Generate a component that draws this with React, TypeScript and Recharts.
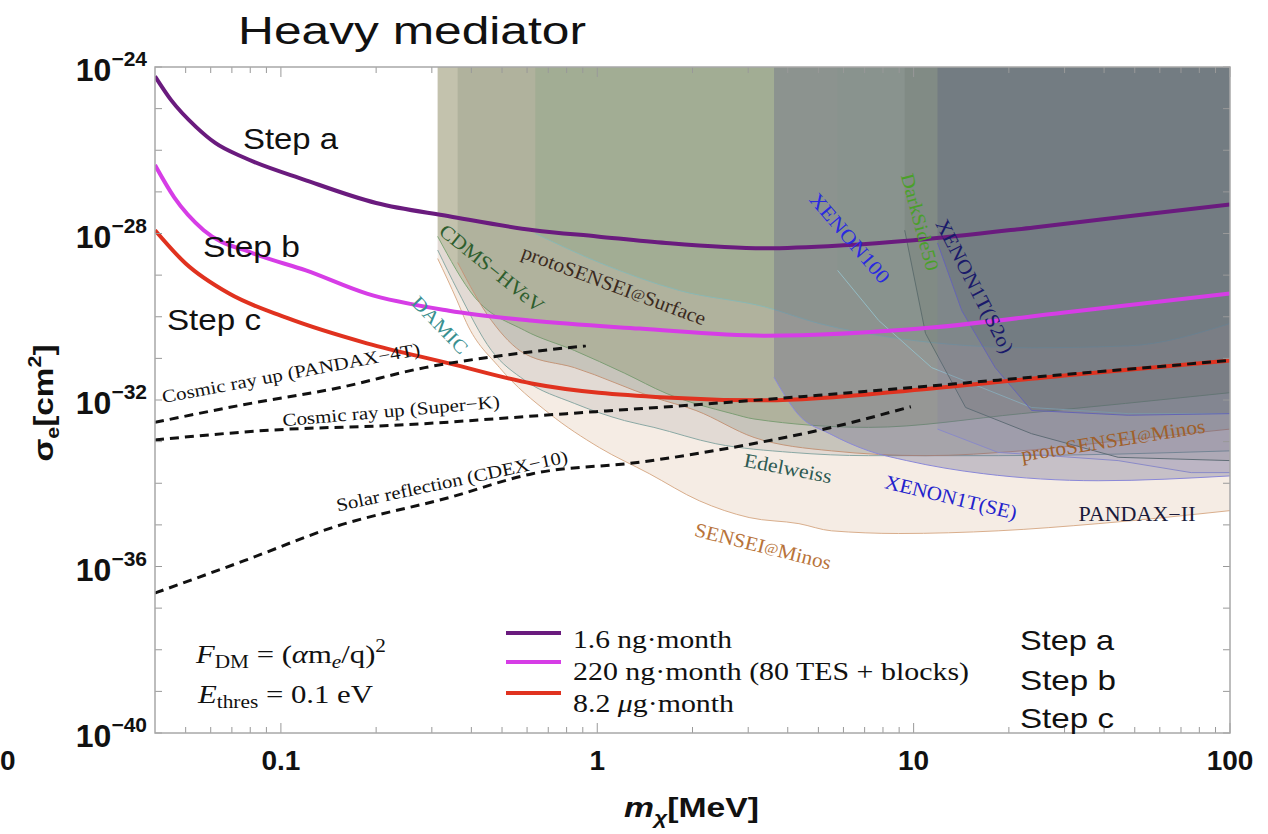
import React from "react";
import { ComposedChart, Line, Area, XAxis, YAxis } from "recharts";

const W = 1268;
const H = 834;
const PLOT = { left: 155, right: 1230, top: 67, bottom: 733 };
const AXIS_SIZE = 1;
const SIGMA_TOP = 1e-24;
const SANS = "'Liberation Sans', Arial, sans-serif";
const SERIF = "'Liberation Serif', 'Times New Roman', serif";

// axis ticks
const xTicks = [
  0.05, 0.06, 0.07, 0.08, 0.09, 0.1, 0.2, 0.3, 0.4, 0.5, 0.6, 0.7, 0.8, 0.9, 1, 2, 3, 4, 5, 6, 7, 8, 9,
  10, 20, 30, 40, 50, 60, 70, 80, 90, 100,
];
const xLabels = [0.1, 1, 10, 100];
const yTicks = [
  1e-40, 1e-39, 1e-38, 1e-37, 1e-36, 1e-35, 1e-34, 1e-33, 1e-32, 1e-31, 1e-30, 1e-29, 1e-28, 1e-27,
  1e-26, 1e-25, 1e-24,
];

// projected reach, three steps
const stepAMass = [0.04, 0.045, 0.054, 0.062, 0.077, 0.12, 0.2, 0.34, 0.63, 1.0, 1.65, 3.4, 6, 10, 24, 50, 100];
const stepASigma = [6.0e-25, 1.6e-25, 3.6e-26, 1.5e-26, 6.5e-27, 1.9e-27, 5.4e-28, 2.6e-28, 1.2e-28, 8.5e-29, 5.9e-29, 4.4e-29, 5.2e-29, 6.9e-29, 1.4e-28, 2.7e-28, 5.0e-28];

const stepBMass = [0.04, 0.046, 0.057, 0.082, 0.12, 0.187, 0.34, 0.615, 1.36, 3.4, 11.4, 30, 100];
const stepBSigma = [4.4e-27, 7.4e-28, 1.2e-28, 3.3e-29, 1.3e-29, 3.6e-30, 1.4e-30, 8.1e-31, 5.2e-31, 3.5e-31, 5.5e-31, 1.26e-30, 3.6e-30];

const stepCMass = [0.04, 0.05, 0.0686, 0.104, 0.187, 0.34, 0.62, 1.65, 3.4, 11.4, 30, 100];
const stepCSigma = [1.2e-28, 1.9e-29, 3.6e-30, 9.5e-31, 2.3e-31, 7.6e-32, 2.5e-32, 1.15e-32, 9.8e-33, 1.9e-32, 3.9e-32, 8.9e-32];

// cosmic ray / solar boosted limits
const pandax4tMass = [0.04, 0.074, 0.154, 0.285, 0.5, 0.92];
const pandax4tSigma = [2.9e-33, 7.4e-33, 2.0e-32, 6.0e-32, 1.17e-31, 2.0e-31];

const superKMass = [0.04, 0.094, 0.237, 0.8, 2.1, 5.0, 18.5, 100];
const superKSigma = [1.1e-33, 1.9e-33, 2.5e-33, 4.7e-33, 7.8e-33, 1.3e-32, 3.0e-32, 8.9e-32];

const cdexMass = [0.04, 0.077, 0.148, 0.339, 0.624, 1.36, 3.1, 5.5, 9.8];
const cdexSigma = [2.3e-37, 1.4e-36, 9.0e-36, 4.5e-35, 1.7e-34, 3.2e-34, 8.9e-34, 2.2e-33, 6.9e-33];

// excluded regions (lower edge, filled up to the top of the plot)
const senseiMinosMass = [0.313, 0.36, 0.386, 0.491, 0.706, 1.015, 1.46, 2.1, 3.02, 4.34, 5.5, 8.97, 18.5, 38.3, 100];
const senseiMinosSigma = [2.5e-29, 2.5e-30, 7.2e-31, 6.0e-32, 4.7e-33, 7.2e-34, 1.7e-34, 3.8e-35, 1.5e-35, 1.07e-35, 7.2e-36, 6.2e-36, 7.2e-36, 1.07e-35, 2.2e-35];

const edelweissMass = [0.313, 0.362, 0.463, 0.589, 0.846, 1.22, 1.51, 2.37, 4.12, 7.21, 18.5, 100];
const edelweissSigma = [4.0e-29, 4.3e-30, 1.55e-31, 3.0e-32, 8.3e-33, 3.2e-33, 2.2e-33, 8.9e-34, 5.5e-34, 4.6e-34, 4.6e-34, 6.0e-34];

const cdmsMass = [0.313, 0.409, 0.589, 0.846, 1.22, 1.65, 2.67, 3.13, 7.21, 21.9, 100];
const cdmsSigma = [8.5e-29, 3.0e-30, 4.7e-31, 1.55e-31, 4.4e-32, 1.45e-32, 4.7e-33, 3.5e-33, 2.2e-33, 4.7e-33, 1.5e-32];

const protoMinosMass = [0.362, 0.463, 0.589, 0.846, 1.51, 2.05, 3.13, 5.5, 10.9, 21.9, 50.5, 100];
const protoMinosSigma = [2.0e-29, 8.1e-31, 1.3e-31, 6.0e-32, 1.15e-32, 5.6e-33, 1.26e-33, 6.0e-34, 4.6e-34, 6.0e-34, 1.17e-33, 2.0e-33];

const protoSurfaceMass = [0.637, 1.015, 1.81, 3.41, 5.02, 8.97, 23.6, 47.7, 100];
const protoSurfaceSigma = [1.0e-28, 2.0e-29, 4.3e-30, 1.7e-30, 6.9e-31, 3.0e-31, 1.8e-31, 2.0e-31, 6.9e-31];

const xenon1tSEMass = [3.62, 4.34, 5.43, 7.21, 9.51, 16.6, 38.3, 100];
const xenon1tSESigma = [3.5e-32, 4.3e-33, 1.55e-33, 6.0e-34, 3.5e-34, 1.7e-34, 1.15e-34, 1.5e-34];

const xenon100Mass = [5.75, 7.76, 11.4, 23.6, 47.7, 100];
const xenon100Sigma = [1.3e-29, 8.1e-31, 6.0e-32, 6.6e-33, 4.7e-33, 4.7e-33];

const darkSideMass = [9.37, 10.9, 14.6, 23.6, 44.3, 100];
const darkSideSigma = [1.2e-28, 4.0e-31, 6.6e-33, 1.55e-33, 4.2e-34, 3.5e-34];

const xenon1tS2Mass = [11.9, 14.2, 18.1, 23.6, 47.7, 100];
const xenon1tS2Sigma = [5.9e-29, 1.4e-30, 6.0e-32, 5.6e-33, 4.3e-33, 4.7e-33];

const pandax2Mass = [11.9, 18.5, 26.7, 44.3, 75.4, 100];
const pandax2Sigma = [2.0e-33, 5.5e-34, 4.6e-34, 3.5e-34, 1.8e-34, 1.8e-34];

const pts = (ms: number[], ss: number[]) => ms.map((m, i) => ({ m, s: ss[i] }));

const regions = [
  { id: "senseiMinos", data: pts(senseiMinosMass, senseiMinosSigma), fill: "#e1c6ae", op: 0.33, stroke: "#d9ae8c", type: "monotone" },
  { id: "edelweiss", data: pts(edelweissMass, edelweissSigma), fill: "#969696", op: 0.2, stroke: "#8aa8a4", type: "monotone" },
  { id: "cdms", data: pts(cdmsMass, cdmsSigma), fill: "#6e8246", op: 0.27, stroke: "#7fa676", type: "monotone" },
  { id: "protoMinos", data: pts(protoMinosMass, protoMinosSigma), fill: "#78826e", op: 0.25, stroke: "#c4967a", type: "monotone" },
  { id: "protoSurface", data: pts(protoSurfaceMass, protoSurfaceSigma), fill: "#78a07d", op: 0.25, stroke: "#8ab8b4", type: "monotone" },
  { id: "xenon1tSE", data: pts(xenon1tSEMass, xenon1tSESigma), fill: "#5a5884", op: 0.3, stroke: "#8a88d8", type: "monotone" },
  { id: "xenon100", data: pts(xenon100Mass, xenon100Sigma), fill: "#78908c", op: 0.1, stroke: "#94bcc4", type: "linear" },
  { id: "darkSide", data: pts(darkSideMass, darkSideSigma), fill: "#46504b", op: 0.12, stroke: "#5e6e6e", type: "linear" },
  { id: "xenon1tS2", data: pts(xenon1tS2Mass, xenon1tS2Sigma), fill: "#2c3c40", op: 0.15, stroke: "#6464b4", type: "linear" },
  { id: "pandax2", data: pts(pandax2Mass, pandax2Sigma), fill: "#7068b8", op: 0.12, stroke: "#8a8ac8", type: "linear" },
];

function XTick(props: any) {
  const { x, payload } = props;
  const v = payload.value;
  const major = xLabels.includes(v);
  const len = major ? 10 : 6;
  return (
    <g>
      <line x1={x} x2={x} y1={PLOT.bottom} y2={PLOT.bottom - len} stroke="#999" strokeWidth={1} />
      <line x1={x} x2={x} y1={PLOT.top} y2={PLOT.top + len} stroke="#999" strokeWidth={1} />
      {major && (
        <text x={x} y={PLOT.bottom + 37} textAnchor="middle" fontFamily={SANS} fontWeight="bold" fontSize={28} fill="#111">
          {String(v)}
        </text>
      )}
    </g>
  );
}

function YTick(props: any) {
  const { y, payload } = props;
  const exp = Math.round(Math.log10(payload.value));
  const labelled = exp % 4 === 0;
  return (
    <g>
      <line x1={PLOT.left} x2={PLOT.left + 7} y1={y} y2={y} stroke="#999" strokeWidth={1} />
      <line x1={PLOT.right} x2={PLOT.right - 7} y1={y} y2={y} stroke="#999" strokeWidth={1} />
      {labelled && (
        <text x={147} y={y + 14} textAnchor="end" fontFamily={SANS} fontWeight="bold" fontSize={32} fill="#111">
          10
          <tspan fontSize={21} dy={-15}>
            {"\u2212" + Math.abs(exp)}
          </tspan>
        </text>
      )}
    </g>
  );
}

type TxtProps = {
  x: number;
  y: number;
  len?: number;
  size: number;
  family?: string;
  weight?: string;
  color?: string;
  anchor?: "start" | "middle" | "end";
  rotate?: number;
  center?: boolean;
  children: React.ReactNode;
};

function Txt({ x, y, len, size, family = SERIF, weight = "normal", color = "#111", anchor = "start", rotate = 0, center = false, children }: TxtProps) {
  return (
    <text
      x={0}
      y={0}
      transform={`translate(${x} ${y}) rotate(${rotate})`}
      textAnchor={anchor}
      dominantBaseline={center ? "central" : undefined}
      textLength={len}
      lengthAdjust={len ? "spacingAndGlyphs" : undefined}
      fontSize={size}
      fontFamily={family}
      fontWeight={weight}
      fill={color}
    >
      {children}
    </text>
  );
}

function Overlay() {
  const small = { fontSize: "0.7em" };
  return (
    <svg width={W} height={H} style={{ position: "absolute", left: 0, top: 0, pointerEvents: "none" }}>
      <rect x={PLOT.left} y={PLOT.top} width={PLOT.right - PLOT.left} height={PLOT.bottom - PLOT.top} fill="none" stroke="#a8a8a8" strokeWidth={1.5} />

      <Txt x={238} y={44} len={348} size={38} family={SANS}>Heavy mediator</Txt>
      <Txt x={0} y={770} size={28} family={SANS} weight="bold">0</Txt>

      {/* axis titles */}
      <Txt x={53} y={403} len={117} size={28} family={SANS} weight="bold" anchor="middle" rotate={-90}>
        σ<tspan fontSize={18} dy={6}>e</tspan>
        <tspan dy={-6}>[cm</tspan>
        <tspan fontSize={18} dy={-12}>2</tspan>
        <tspan dy={12}>]</tspan>
      </Txt>
      <Txt x={624} y={817} len={135} size={28} family={SANS} weight="bold">
        <tspan fontStyle="italic">m</tspan>
        <tspan fontSize={19} fontStyle="italic" dy={7}>χ</tspan>
        <tspan dy={-7}>[MeV]</tspan>
      </Txt>

      {/* curve labels */}
      <Txt x={243} y={149} len={95} size={30} family={SANS}>Step a</Txt>
      <Txt x={203} y={257} len={97} size={30} family={SANS}>Step b</Txt>
      <Txt x={167} y={330} len={94} size={30} family={SANS}>Step c</Txt>

      <Txt x={291} y={373} len={262} size={18} rotate={-10.6} anchor="middle" center>Cosmic ray up (PANDAX−4T)</Txt>
      <Txt x={391} y={411} len={218} size={18} rotate={-4.9} anchor="middle" center>Cosmic ray up (Super−K)</Txt>
      <Txt x={452} y={481} len={236} size={18} rotate={-12} anchor="middle" center>Solar reflection (CDEX−10)</Txt>

      <Txt x={492} y={268} len={128} size={20} rotate={38.7} anchor="middle" center color="#2e5e2e">CDMS−HVeV</Txt>
      <Txt x={614} y={285} len={195} size={20} rotate={20.4} anchor="middle" center color="#3b2a1e">
        protoSENSEI<tspan style={small}>@</tspan>Surface
      </Txt>
      <Txt x={440} y={325} len={72} size={19} rotate={46} anchor="middle" center color="#3a9090">DAMIC</Txt>
      <Txt x={788} y={468} len={89} size={20} rotate={11} anchor="middle" center color="#2d5a52">Edelweiss</Txt>
      <Txt x={951} y={497} len={135} size={20} rotate={13.6} anchor="middle" center color="#2222cc">XENON1T(SE)</Txt>
      <Txt x={1137} y={514} len={117} size={20} anchor="middle" center color="#1a1a3a">PANDAX−II</Txt>
      <Txt x={1113} y={440} len={186} size={20} rotate={-9} anchor="middle" center color="#a0602a">
        protoSENSEI<tspan style={small}>@</tspan>Minos
      </Txt>
      <Txt x={763} y={546} len={140} size={20} rotate={14} anchor="middle" center color="#b8733a">
        SENSEI<tspan style={small}>@</tspan>Minos
      </Txt>
      <Txt x={850} y={238} len={112} size={20} rotate={49.5} anchor="middle" center color="#2a2ae0">XENON100</Txt>
      <Txt x={920} y={222} len={100} size={19} rotate={75} anchor="middle" center color="#4aa02a">DarkSide50</Txt>
      <Txt x={975} y={286} len={148} size={20} rotate={62.8} anchor="middle" center color="#1a1a6a">XENON1T(S2o)</Txt>

      {/* annotations */}
      <Txt x={196} y={663} len={190} size={26}>
        <tspan fontStyle="italic">F</tspan>
        <tspan fontSize={18} dy={5}>DM</tspan>
        <tspan dy={-5}> = (</tspan>
        <tspan fontStyle="italic">α</tspan>m
        <tspan fontSize={18} fontStyle="italic" dy={5}>e</tspan>
        <tspan dy={-5}>/q)</tspan>
        <tspan fontSize={18} dy={-11}>2</tspan>
      </Txt>
      <Txt x={198} y={703} len={175} size={26}>
        <tspan fontStyle="italic">E</tspan>
        <tspan fontSize={18} dy={5}>thres</tspan>
        <tspan dy={-5}> = 0.1 eV</tspan>
      </Txt>

      {/* legend */}
      <line x1={506} x2={561} y1={633} y2={633} stroke="#6a1b7e" strokeWidth={4} />
      <line x1={506} x2={561} y1={662} y2={662} stroke="#d63de6" strokeWidth={4} />
      <line x1={506} x2={561} y1={693} y2={693} stroke="#e0321f" strokeWidth={4} />
      <Txt x={573} y={648} len={159} size={26}>1.6 ng·month</Txt>
      <Txt x={573} y={680} len={396} size={26}>220 ng·month (80 TES + blocks)</Txt>
      <Txt x={573} y={712} len={161} size={26}>
        8.2 <tspan fontStyle="italic">μ</tspan>g·month
      </Txt>

      <Txt x={1020} y={650} len={94} size={28} family={SANS}>Step a</Txt>
      <Txt x={1020} y={690} len={96} size={28} family={SANS}>Step b</Txt>
      <Txt x={1020} y={728} len={94} size={28} family={SANS}>Step c</Txt>
    </svg>
  );
}

export default function App() {
  return (
    <div style={{ position: "absolute", left: 0, top: 0, width: W, height: H, background: "#fff" }}>
      <ComposedChart
        width={W}
        height={H}
        margin={{ top: PLOT.top, right: W - PLOT.right, bottom: H - PLOT.bottom - AXIS_SIZE, left: PLOT.left - AXIS_SIZE }}
      >
        <XAxis
          dataKey="m"
          type="number"
          scale="log"
          domain={[0.04, 100]}
          allowDataOverflow
          ticks={xTicks}
          interval={0}
          tick={<XTick />}
          tickLine={false}
          axisLine={false}
          height={AXIS_SIZE}
        />
        <YAxis
          type="number"
          scale="log"
          domain={[1e-40, 1e-24]}
          allowDataOverflow
          ticks={yTicks}
          interval={0}
          tick={<YTick />}
          tickLine={false}
          axisLine={false}
          width={AXIS_SIZE}
        />
        {regions.map((r) => (
          <Area
            key={r.id}
            data={r.data}
            dataKey="s"
            type={r.type as any}
            baseValue={SIGMA_TOP}
            fill={r.fill}
            fillOpacity={r.op}
            stroke={r.stroke}
            strokeWidth={1}
            dot={false}
            activeDot={false}
            isAnimationActive={false}
          />
        ))}
        <Line data={pts(stepAMass, stepASigma)} dataKey="s" type="monotone" stroke="#6a1b7e" strokeWidth={4} dot={false} activeDot={false} isAnimationActive={false} />
        <Line data={pts(stepBMass, stepBSigma)} dataKey="s" type="monotone" stroke="#d63de6" strokeWidth={4} dot={false} activeDot={false} isAnimationActive={false} />
        <Line data={pts(stepCMass, stepCSigma)} dataKey="s" type="monotone" stroke="#e0321f" strokeWidth={4} dot={false} activeDot={false} isAnimationActive={false} />
        <Line data={pts(pandax4tMass, pandax4tSigma)} dataKey="s" type="monotone" stroke="#111" strokeWidth={3} strokeDasharray="9 6" dot={false} activeDot={false} isAnimationActive={false} />
        <Line data={pts(superKMass, superKSigma)} dataKey="s" type="monotone" stroke="#111" strokeWidth={3} strokeDasharray="9 6" dot={false} activeDot={false} isAnimationActive={false} />
        <Line data={pts(cdexMass, cdexSigma)} dataKey="s" type="monotone" stroke="#111" strokeWidth={3} strokeDasharray="9 6" dot={false} activeDot={false} isAnimationActive={false} />
      </ComposedChart>
      <Overlay />
    </div>
  );
}
